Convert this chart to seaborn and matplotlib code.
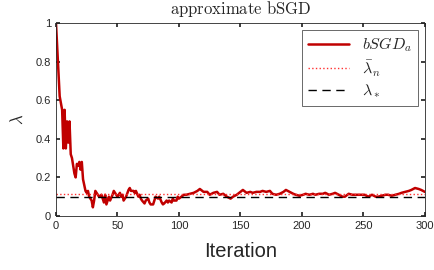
import matplotlib
matplotlib.use("Agg")
import matplotlib.pyplot as plt
import seaborn as sns

sns.set_theme(style="white")
plt.rcParams['font.family'] = ['Liberation Sans', 'DejaVu Sans']
plt.rcParams['mathtext.fontset'] = 'cm'

# lambda estimates
iters = [0, 3, 5, 6, 7, 8, 9, 10, 11, 12, 13, 15, 16, 17, 18, 19, 20, 21, 22, 24,
         25, 26, 27, 29, 30, 31, 32, 34, 35, 37, 39, 40, 41, 43, 44, 46, 47, 48, 49, 50,
         52, 53, 54, 55, 57, 59, 60, 61, 63, 64, 65, 67, 68, 69, 70, 72, 73, 75, 76, 77,
         79, 80, 81, 83, 84, 86, 87, 88, 90, 91, 92, 94, 95, 96, 98, 99, 100, 102, 104, 106,
         109, 112, 115, 117, 120, 123, 125, 128, 131, 133, 136, 139, 142, 144, 147, 150, 152, 155, 158, 160,
         163, 166, 168, 171, 174, 176, 179, 182, 185, 187, 190, 193, 195, 198, 201, 203, 206, 209, 211, 214,
         217, 219, 222, 225, 227, 230, 233, 235, 238, 241, 243, 246, 249, 251, 254, 257, 260, 262, 265, 268,
         270, 273, 276, 279, 281, 284, 287, 289, 292, 295, 297, 300]
lam = [1.0, 0.62, 0.55, 0.35, 0.55, 0.35, 0.49, 0.38, 0.49, 0.32, 0.30, 0.22, 0.20, 0.27, 0.26, 0.28, 0.24, 0.28, 0.19, 0.13,
       0.12, 0.13, 0.10, 0.08, 0.045, 0.08, 0.13, 0.11, 0.10, 0.11, 0.07, 0.11, 0.06, 0.10, 0.08, 0.11, 0.13, 0.12, 0.11, 0.10,
       0.12, 0.10, 0.11, 0.08, 0.10, 0.135, 0.145, 0.13, 0.13, 0.12, 0.13, 0.10, 0.11, 0.09, 0.08, 0.065, 0.08, 0.09, 0.07, 0.06,
       0.06, 0.08, 0.10, 0.09, 0.10, 0.07, 0.06, 0.065, 0.08, 0.07, 0.08, 0.07, 0.09, 0.08, 0.08, 0.10, 0.09, 0.10, 0.11, 0.11,
       0.115, 0.12, 0.13, 0.14, 0.125, 0.125, 0.11, 0.12, 0.125, 0.11, 0.115, 0.10, 0.09, 0.10, 0.11, 0.125, 0.135, 0.12, 0.125, 0.12,
       0.125, 0.125, 0.13, 0.125, 0.13, 0.115, 0.11, 0.115, 0.125, 0.135, 0.125, 0.115, 0.11, 0.105, 0.11, 0.115, 0.11, 0.115, 0.11, 0.115,
       0.115, 0.12, 0.11, 0.115, 0.12, 0.11, 0.10, 0.10, 0.115, 0.11, 0.11, 0.11, 0.11, 0.11, 0.10, 0.11, 0.10, 0.10, 0.105, 0.11,
       0.11, 0.105, 0.11, 0.115, 0.12, 0.125, 0.13, 0.135, 0.145, 0.14, 0.135, 0.125]
lam_bar = 0.115
lam_star = 0.1

fig = plt.figure(figsize=(4.35, 2.7), dpi=100)
ax = fig.add_axes([0.1287, 0.2, 0.848, 0.715])

sns.lineplot(x=iters, y=lam, ax=ax, color='#c00000', linewidth=1.8, label=r'$bSGD_a$')
ax.axhline(lam_bar, color='#ff3030', linestyle=':', linewidth=1.0, label=r'$\bar{\lambda}_n$')
ax.axhline(lam_star, color='black', linestyle=(0, (6, 4)), linewidth=1.0, label=r'$\lambda_*$')

ax.set_xlim(0, 300)
ax.set_ylim(0, 1)
ax.set_xticks([0, 50, 100, 150, 200, 250, 300])
ax.set_yticks([0, 0.2, 0.4, 0.6, 0.8, 1])
ax.set_yticklabels(['0', '0.2', '0.4', '0.6', '0.8', '1'])
ax.tick_params(direction='in', length=3, labelsize=8, colors='#262626', top=True, right=True,
               bottom=True, left=True)
for s in ax.spines.values():
    s.set_color('#262626')
    s.set_linewidth(0.6)

ax.set_xlabel('Iteration', fontsize=14.5, color='#262626', labelpad=8)
ax.set_ylabel(r'$\lambda$', fontsize=12, color='#262626', labelpad=7)
ax.set_title(r'$\mathrm{approximate\ bSGD}$', fontsize=12, pad=6.5)

leg = ax.legend(loc='upper right', fontsize=11.5, frameon=True, fancybox=False,
                edgecolor='#262626', handlelength=2.6, borderpad=0.35, labelspacing=0.25,
                borderaxespad=0.45)
leg.get_frame().set_linewidth(0.6)

fig.savefig('out.png', dpi=100)
